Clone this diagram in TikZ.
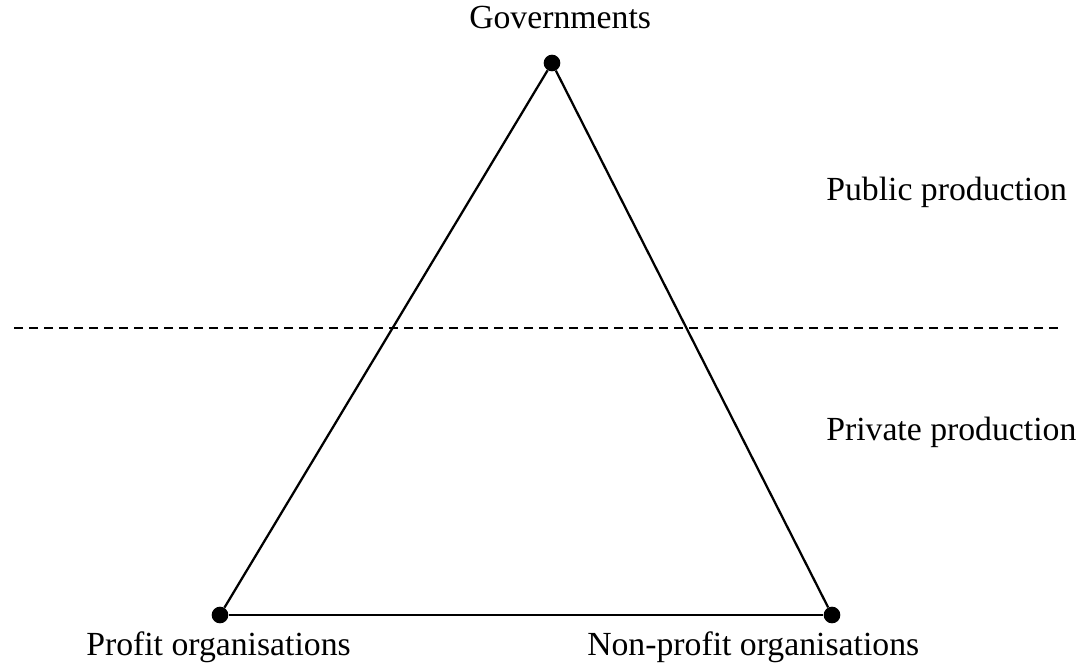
\documentclass[tikz,border=0pt]{standalone}
\usepackage{fontspec}
\setmainfont{Liberation Serif}
\begin{document}
\begin{tikzpicture}[x=0.75pt, y=-0.75pt, font=\fontsize{25.3}{30}\selectfont]
\useasboundingbox (0,0) rectangle (1086,665);
\node[circle, minimum size=12.5pt, inner sep=0pt, fill] (gov) at (552,63){};
\node[circle, minimum size=12.5pt, inner sep=0pt, fill] (prof) at (220,615){};
\node[circle, minimum size=12.5pt, inner sep=0pt, fill] (nprof) at (832,615){};
\draw[line width=1.7pt](gov) -- (prof);
\draw[line width=1.7pt](gov) -- (nprof);
\draw[line width=1.7pt](prof) -- (nprof);
\coordinate (divl) at (14,328);
\coordinate (divr) at (1063,328);
\draw[line width=1.4pt, dash pattern=on 6.75pt off 4.5pt](divl) -- (divr);
\node[inner sep=0pt, anchor=base west] (govlbl) at (469,28){Governments};
\node[inner sep=0pt, anchor=base west] (publbl) at (826,200){Public production};
\node[inner sep=0pt, anchor=base west] (privlbl) at (826,440){Private production};
\node[inner sep=0pt, anchor=base west] (proflbl) at (86,655){Profit organisations};
\node[inner sep=0pt, anchor=base west] (nproflbl) at (587,655){Non-profit organisations};
\end{tikzpicture}
\end{document}
